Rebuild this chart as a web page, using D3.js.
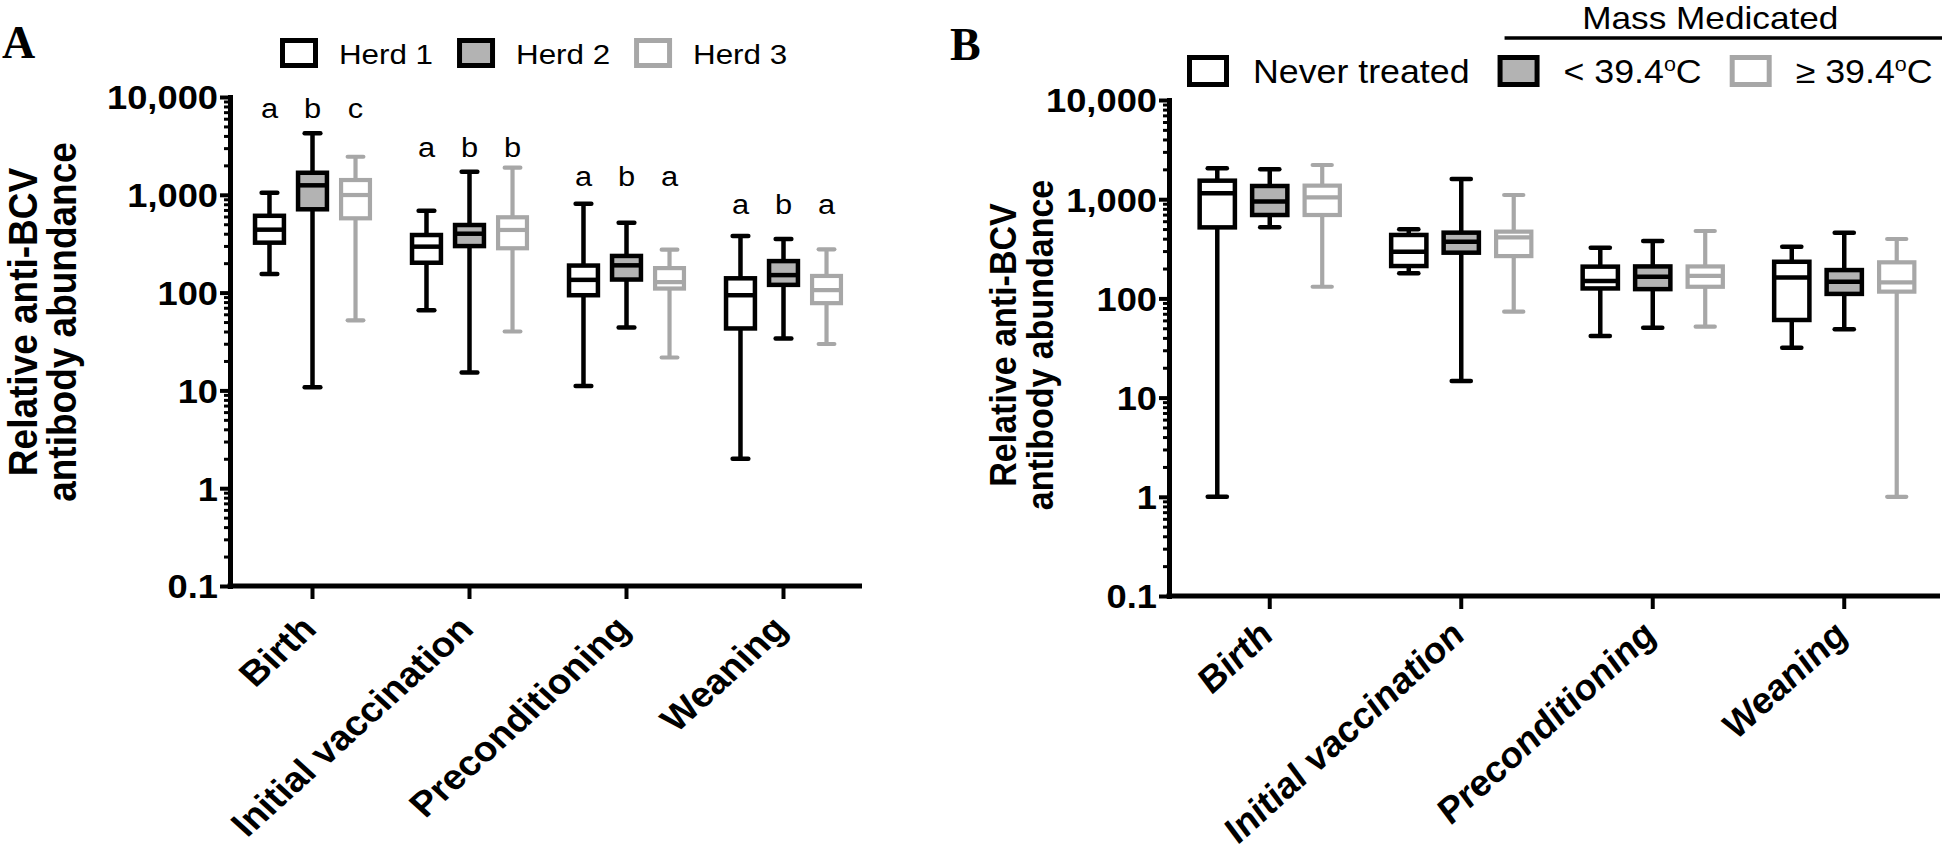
<!DOCTYPE html>
<html><head><meta charset="utf-8">
<script src="https://cdn.jsdelivr.net/npm/d3@7/dist/d3.min.js"></script>
<style>body{margin:0;background:#fff;} svg{display:block;}</style>
</head><body>
<svg id="chart" width="1946" height="859"></svg>
<script>
// ---------------- DATA ----------------
const categories = ["Birth", "Initial vaccination", "Preconditioning", "Weaning"];
const tickValues = [0.1, 1, 10, 100, 1000, 10000];
const tickLabels = ["0.1", "1", "10", "100", "1,000", "10,000"];

// Panel A: five-number summaries [min, q1, median, q3, max] per category
const seriesA = ["Herd 1", "Herd 2", "Herd 3"];
const herd1 = [[155, 324, 440, 610, 1050], [66, 202, 295, 388, 688], [11.1, 94, 135, 189, 810], [2.0, 43, 94, 140, 379]];
const herd2 = [[10.8, 711, 1250, 1680, 4250], [15.2, 299, 400, 491, 1722], [44, 136, 190, 237, 519], [34, 120, 151, 210, 353]];
const herd3 = [[52, 575, 995, 1416, 2450], [40, 284, 437, 589, 1892], [21.7, 110, 128, 178, 275], [29.8, 78, 106, 148, 277]];
const lettersA = [["a", "b", "c"], ["a", "b", "b"], ["a", "b", "a"], ["a", "b", "a"]];
const letterLevelA = [6100, 2440, 1230, 636];

// Panel B
const seriesB = ["Never treated", "< 39.4°C", "≥ 39.4°C"];
const groupTitleB = "Mass Medicated";
const neverTreated = [[1.0, 520, 1146, 1537, 2050], [179, 212, 296, 436, 497], [41.8, 126, 150, 209, 324], [31.8, 60.6, 162, 234, 332]];
const massBelow = [[520, 693, 950, 1359, 2000], [14.7, 289, 373, 460, 1600], [50.7, 124, 165, 210, 379], [48.8, 111, 147, 193, 459]];
const massAbove = [[131, 693, 1045, 1370, 2213], [73.5, 267, 413, 471, 1103], [51.9, 131, 169, 210, 478], [1.0, 117, 145, 231, 397]];

// ---------------- STYLE ----------------
const strokeColors = ["#000000", "#000000", "#a7a7a7"];
const fillColors = ["#ffffff", "#b3b3b3", "#ffffff"];
const strokeW = [4.5, 4.5, 4.2];
const FONT = "'Liberation Sans', Arial, Helvetica, sans-serif";
const S = 1.1; // horizontal text stretch of the original figure

const svg = d3.select("#chart");

function txt(g, x, y, str, o = {}) {
  const t = g.append("text")
    .attr("transform", `translate(${x},${y}) scale(${S},1)` + (o.rot ? ` rotate(${o.rot})` : ""))
    .attr("font-family", o.family || FONT)
    .attr("font-size", o.size || 30)
    .attr("font-weight", o.weight || "normal")
    .attr("font-style", o.style || "normal")
    .attr("text-anchor", o.anchor || "start")
    .attr("fill", o.fill || "#000");
  if (o.dy) t.attr("dy", o.dy);
  if (str.includes("°")) {
    const parts = str.split("°");
    t.append("tspan").text(parts[0]);
    t.append("tspan").attr("font-size", "0.6em").attr("dy", "-0.62em").text("o");
    t.append("tspan").attr("dy", "0.37em").text(parts[1]);
  } else t.text(str);
  return t;
}

function drawPanel(cfg) {
  const g = svg.append("g");
  const y = d3.scaleLog().domain([0.1, 10000]).range([cfg.yBot, cfg.yTop]);
  const x = d3.scaleBand().domain(categories).range(cfg.band);
  const bw = x.bandwidth();
  const off = d3.scalePoint().domain([0, 1, 2]).range([-0.274 * bw, 0.274 * bw]);
  const boxW = 0.184 * bw, capHalf = 0.05 * bw;

  // y axis major
  const yAxis = d3.axisLeft(y).tickValues(tickValues)
    .tickFormat((d, i) => tickLabels[i]).tickSize(10).tickSizeOuter(0).tickPadding(2);
  const ya = g.append("g").attr("transform", `translate(${cfg.axisX},0)`).call(yAxis);
  ya.select(".domain").attr("stroke", "#000").attr("stroke-width", 5).attr("stroke-linecap", "square");
  ya.selectAll(".tick line").attr("stroke", "#000").attr("stroke-width", 4);
  ya.selectAll(".tick text").each(function () {
    const t = d3.select(this);
    const xx = +t.attr("x");
    t.attr("x", 0).attr("transform", `translate(${xx},0) scale(${S},1)`)
      .attr("font-family", FONT).attr("font-size", cfg.tickSize).attr("font-weight", "bold")
      .attr("fill", "#000").attr("dy", "0.36em");
  });
  // minor ticks
  const minors = [];
  tickValues.slice(0, -1).forEach(d => { for (let m = 2; m <= 9; m++) minors.push(d * m); });
  const ym = g.append("g").attr("transform", `translate(${cfg.axisX},0)`)
    .call(d3.axisLeft(y).tickValues(minors).tickFormat("").tickSize(6).tickSizeOuter(0));
  ym.select(".domain").remove();
  ym.selectAll(".tick line").attr("stroke", "#000").attr("stroke-width", 3);

  // x axis
  const xAxis = d3.axisBottom(x).tickSize(13).tickSizeOuter(0).tickFormat("");
  const xa = g.append("g").attr("transform", `translate(0,${cfg.yBot})`).call(xAxis);
  xa.select(".domain").remove();
  xa.selectAll(".tick line").attr("stroke", "#000").attr("stroke-width", 4);
  g.append("line").attr("x1", cfg.axisX - 2.5).attr("x2", cfg.band[1])
    .attr("y1", cfg.yBot).attr("y2", cfg.yBot).attr("stroke", "#000").attr("stroke-width", 5);
  categories.forEach(c => {
    txt(g, x(c) + bw / 2 + 6, cfg.yBot + cfg.xLabelDy, c,
      { rot: -45, anchor: "end", size: 35, weight: "bold", style: cfg.italic ? "italic" : "normal" });
  });

  // boxes
  cfg.data.forEach((series, si) => {
    const col = strokeColors[si], sw = strokeW[si];
    series.forEach((v, ci) => {
      const cx = x(categories[ci]) + bw / 2 + off(si);
      const [mn, q1, md, q3, mx] = v;
      const bg = g.append("g").attr("stroke", col).attr("stroke-width", sw);
      bg.append("line").attr("x1", cx).attr("x2", cx).attr("y1", y(mx)).attr("y2", y(q3));
      bg.append("line").attr("x1", cx).attr("x2", cx).attr("y1", y(q1)).attr("y2", y(mn));
      [mn, mx].forEach(e => bg.append("line").attr("stroke-linecap", "round")
        .attr("x1", cx - capHalf).attr("x2", cx + capHalf).attr("y1", y(e)).attr("y2", y(e)));
      bg.append("rect").attr("x", cx - boxW / 2).attr("width", boxW)
        .attr("y", y(q3)).attr("height", y(q1) - y(q3)).attr("fill", fillColors[si]);
      bg.append("line").attr("x1", cx - boxW / 2).attr("x2", cx + boxW / 2)
        .attr("y1", y(md)).attr("y2", y(md));
    });
  });

  // y title
  cfg.title.forEach((line, i) => {
    txt(g, cfg.titleX[i], cfg.titleY, line, { rot: -90, anchor: "middle", size: cfg.titleSize, weight: "bold" });
  });

  // panel letter
  g.append("text").attr("x", cfg.letterPos[0]).attr("y", cfg.letterPos[1]).text(cfg.letter)
    .attr("font-family", "'Liberation Serif', 'Times New Roman', serif").attr("font-weight", "bold")
    .attr("font-size", 46).attr("fill", "#000");

  // significance letters
  if (cfg.letters) {
    cfg.letters.forEach((arr, ci) => arr.forEach((l, si) => {
      txt(g, x(categories[ci]) + bw / 2 + off(si), y(cfg.letterLevel[ci]), l, { anchor: "middle", size: 28 });
    }));
  }

  // legend
  let lx = cfg.legend.x;
  const items = [];
  cfg.legend.labels.forEach((lab, i) => {
    const L = cfg.legend;
    g.append("rect").attr("x", lx + 2.5).attr("y", L.boxY + 2.5)
      .attr("width", L.boxW - 5).attr("height", L.boxH - 5)
      .attr("fill", fillColors[i]).attr("stroke", strokeColors[i]).attr("stroke-width", 5);
    const boxLeft = lx;
    const t = txt(g, lx + L.textOff, L.baseY, lab, { size: L.size });
    const w = t.node().getComputedTextLength() * S;
    items.push({ boxLeft, textEnd: lx + L.textOff + w });
    lx = lx + L.textOff + w + L.gap;
  });
  return { g, items };
}

const lineText = ["Relative anti-BCV", "antibody abundance"];

drawPanel({
  data: [herd1, herd2, herd3], yTop: 97, yBot: 586, axisX: 230, band: [234, 862],
  tickSize: 33, xLabelDy: 45, italic: false,
  title: lineText, titleX: [37, 76], titleY: 322, titleSize: 37,
  letter: "A", letterPos: [2, 58],
  letters: lettersA, letterLevel: letterLevelA,
  legend: { labels: seriesA, x: 280, boxY: 38, boxW: 38, boxH: 30, textOff: 59, baseY: 64, size: 28.5, gap: 24 }
});

const pB = drawPanel({
  data: [neverTreated, massBelow, massAbove], yTop: 100, yBot: 596, axisX: 1169, band: [1174, 1940],
  tickSize: 33, xLabelDy: 41, italic: true,
  title: lineText, titleX: [1016, 1053], titleY: 345, titleSize: 34,
  letter: "B", letterPos: [950, 60],
  legend: { labels: seriesB, x: 1187, boxY: 55, boxW: 42, boxH: 32, textOff: 66, baseY: 83, size: 32.5, gap: 28 }
});

// Mass Medicated bracket
const it = pB.items;
const lx1 = it[1].boxLeft + 7, lx2 = Math.min(it[2].textEnd + 11, 1942);
pB.g.append("line").attr("x1", lx1).attr("x2", lx2).attr("y1", 38).attr("y2", 38)
  .attr("stroke", "#000").attr("stroke-width", 3.5);
txt(pB.g, (lx1 + lx2) / 2 - 13, 29, groupTitleB, { anchor: "middle", size: 32 });
</script>
</body></html>
